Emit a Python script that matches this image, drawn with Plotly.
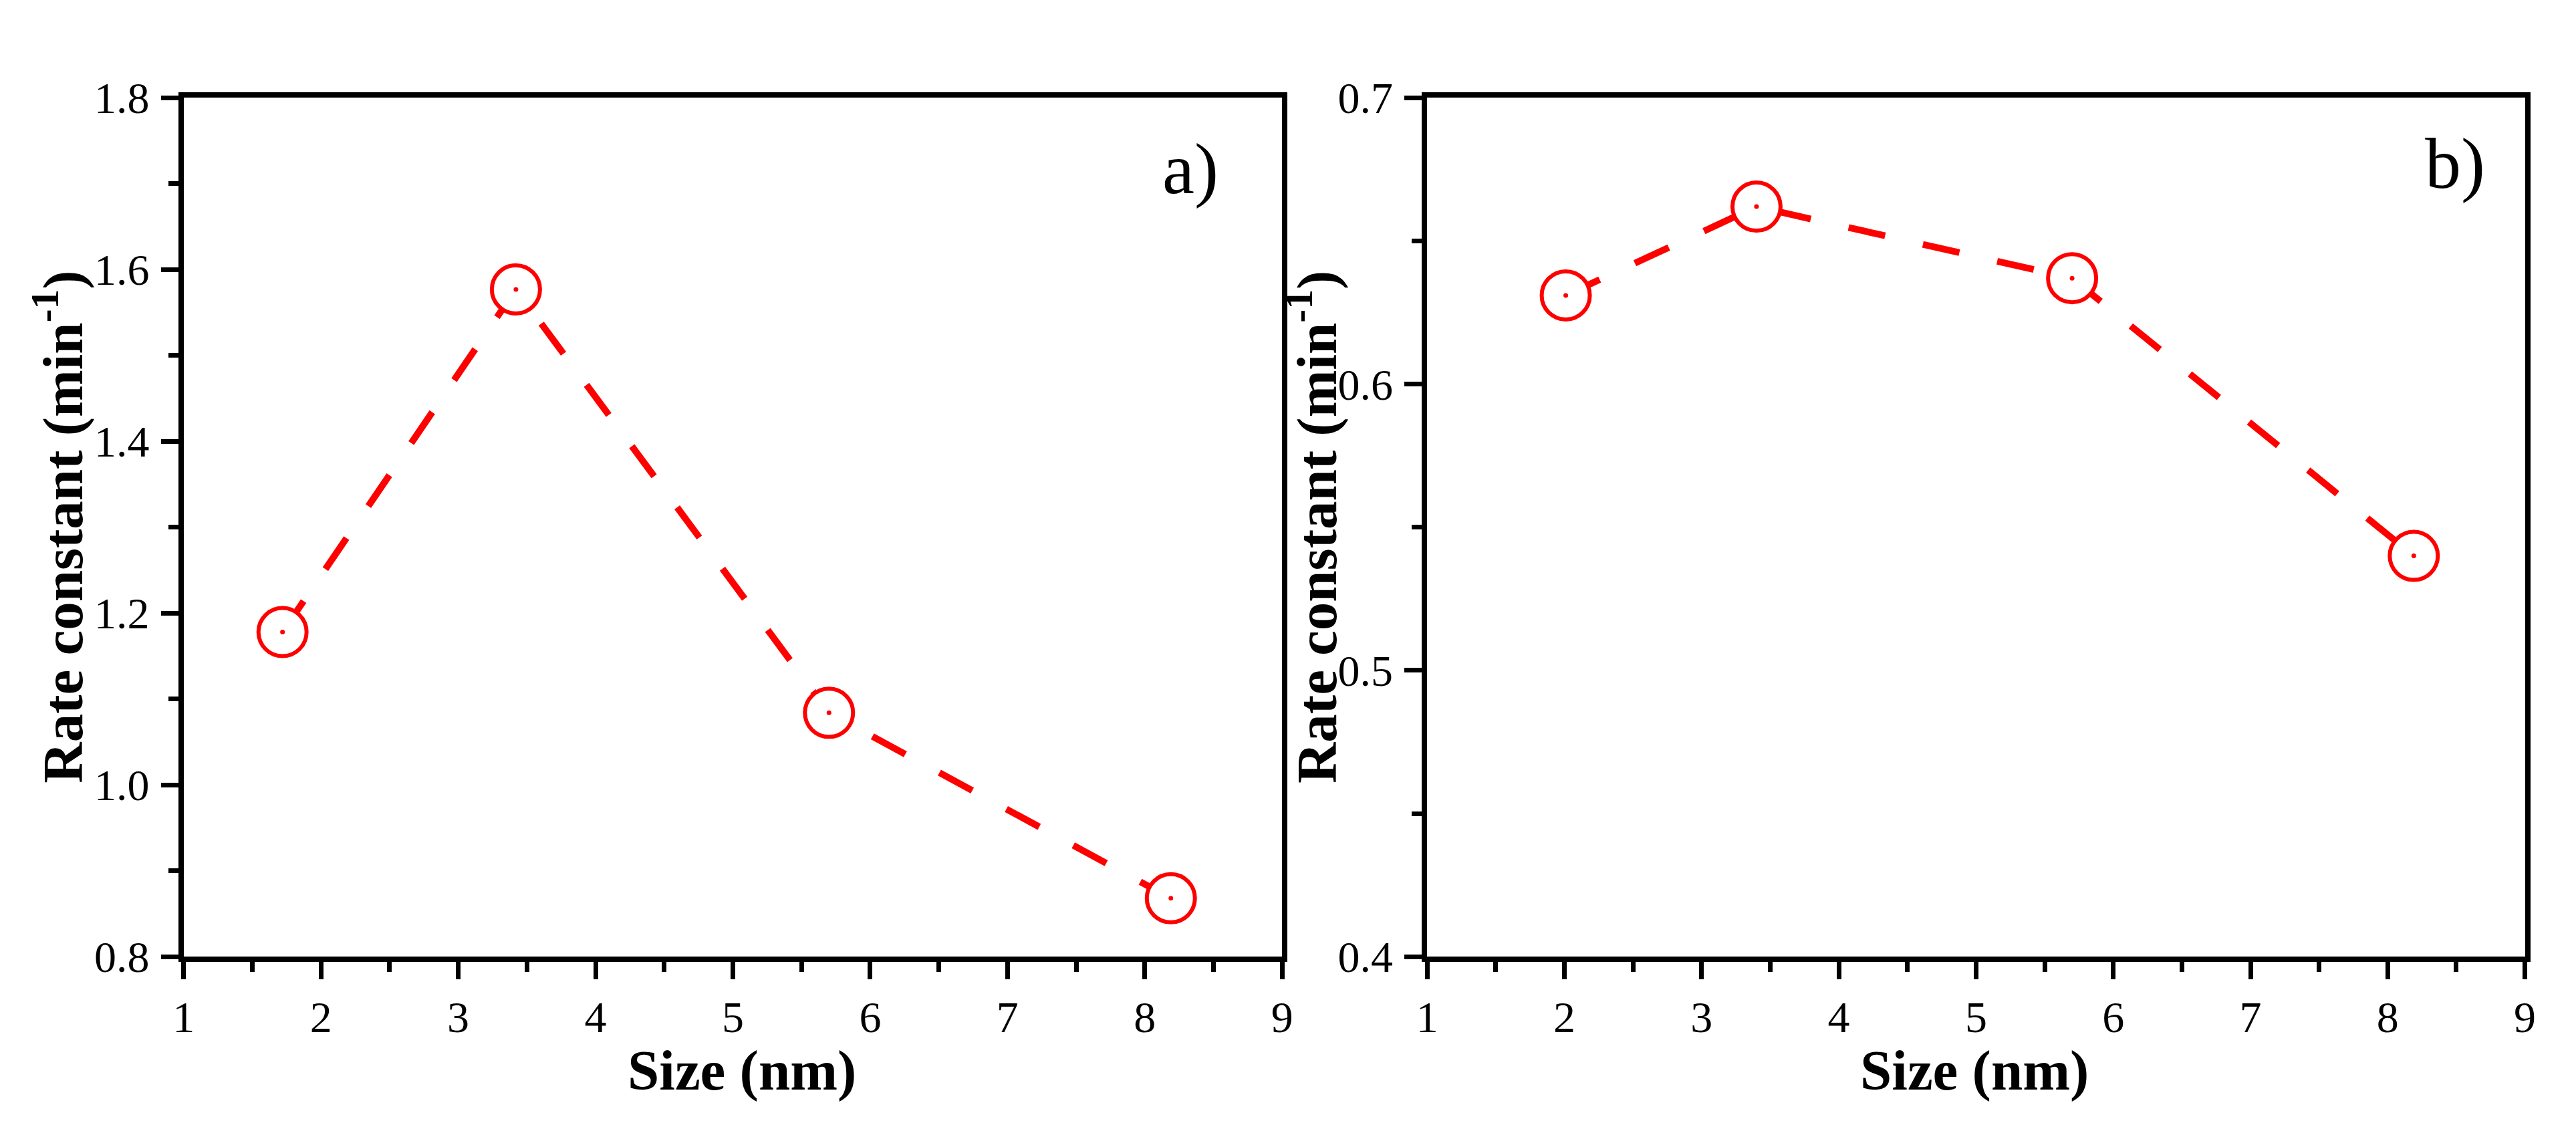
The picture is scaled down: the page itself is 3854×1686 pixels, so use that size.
import plotly.graph_objects as go

# ---- data ----
size_a = [1.72, 3.42, 5.70, 8.19]
rate_a = [1.178, 1.577, 1.084, 0.868]
size_b = [2.01, 3.40, 5.70, 8.19]
rate_b = [0.631, 0.662, 0.637, 0.540]

x_ticks = [1, 2, 3, 4, 5, 6, 7, 8, 9]
y_ticks_a = [0.8, 1.0, 1.2, 1.4, 1.6, 1.8]
y_ticks_b = [0.4, 0.5, 0.6, 0.7]

W, H = 3854, 1686
RED = "#FF0000"
FONT = "Liberation Serif"

fig = go.Figure()

def add_series(xs, ys, xa, ya):
    fig.add_trace(go.Scatter(
        x=xs, y=ys, xaxis=xa, yaxis=ya, mode="lines",
        line=dict(color=RED, width=10, dash="56px,58px"),
        showlegend=False, hoverinfo="skip"))
    fig.add_trace(go.Scatter(
        x=xs, y=ys, xaxis=xa, yaxis=ya, mode="markers",
        marker=dict(symbol="circle", size=72, color="white",
                    line=dict(color=RED, width=6)),
        showlegend=False, hoverinfo="skip"))
    fig.add_trace(go.Scatter(
        x=xs, y=ys, xaxis=xa, yaxis=ya, mode="markers",
        marker=dict(symbol="circle", size=7, color=RED, line=dict(width=0)),
        showlegend=False, hoverinfo="skip"))

add_series(size_a, rate_a, "x", "y")
add_series(size_b, rate_b, "x2", "y2")

def px_x(p):
    return p / W

def px_y(p):
    return 1 - p / H

ydom = [px_y(1450), px_y(107)]

common = dict(
    showline=True, linewidth=8, linecolor="black", mirror=True,
    showgrid=False, zeroline=False,
    ticks="outside", ticklen=26, tickwidth=7, tickcolor="black",
    tickfont=dict(family=FONT, size=66, color="black"),
)

xcommon = dict(common, range=[1, 9], tickvals=x_ticks, ticklabelstandoff=0,
               minor=dict(dtick=0.5, tick0=1, ticks="outside", ticklen=15,
                          tickwidth=7, tickcolor="black"))

fig.update_layout(
    width=W, height=H,
    margin=dict(l=0, r=0, t=0, b=0),
    paper_bgcolor="white", plot_bgcolor="white",
    xaxis=dict(xcommon, domain=[px_x(252), px_x(1910)], anchor="y"),
    yaxis=dict(common, domain=ydom, anchor="x", range=[0.8, 1.8],
               tickvals=y_ticks_a, tickformat=".1f", ticklabelstandoff=4,
               minor=dict(dtick=0.1, tick0=0.8, ticks="outside", ticklen=15,
                          tickwidth=7, tickcolor="black")),
    xaxis2=dict(xcommon, domain=[px_x(2129), px_x(3786)], anchor="y2"),
    yaxis2=dict(common, domain=ydom, anchor="x2", range=[0.4, 0.7],
                tickvals=y_ticks_b, tickformat=".1f", ticklabelstandoff=4,
                minor=dict(dtick=0.05, tick0=0.4, ticks="outside", ticklen=15,
                           tickwidth=7, tickcolor="black")),
)

title_font = dict(family=FONT, size=85, color="black")
label_font = dict(family=FONT, size=108, color="black")

annotations = [
    dict(text="<b>Size (nm)</b>", x=px_x(1095), y=px_y(1628)),
    dict(text="<b>Size (nm)</b>", x=px_x(2955), y=px_y(1628)),
    dict(text="<b>Rate constant (min<sup>-1</sup>)</b>", x=px_x(64), y=px_y(778),
         textangle=-90),
    dict(text="<b>Rate constant (min<sup>-1</sup>)</b>", x=px_x(1957), y=px_y(778),
         textangle=-90),
]
for a in annotations:
    a.update(xref="paper", yref="paper", showarrow=False,
             xanchor="center", yanchor="middle", font=title_font, borderpad=0)
fig.update_layout(annotations=annotations)

fig.add_annotation(text="a)", x=px_x(1772), y=px_y(218), xref="paper", yref="paper",
                   showarrow=False, xanchor="center", yanchor="middle", font=label_font)
fig.add_annotation(text="b)", x=px_x(3680), y=px_y(210), xref="paper", yref="paper",
                   showarrow=False, xanchor="center", yanchor="middle", font=label_font)

fig.write_html("out.html")
